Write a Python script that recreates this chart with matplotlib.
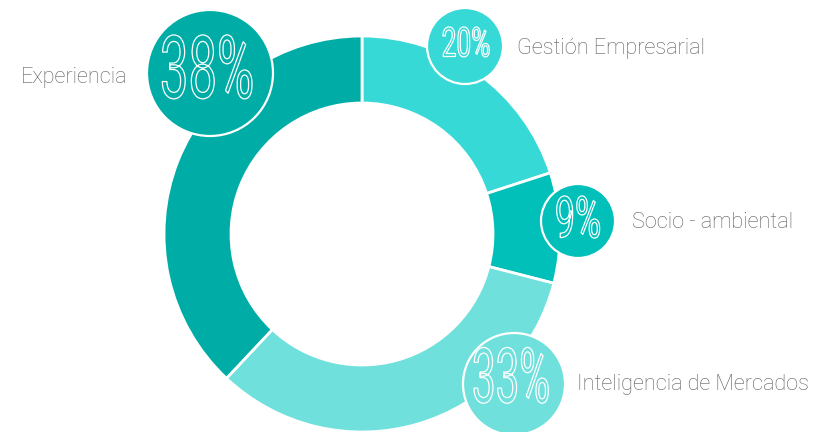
import matplotlib
matplotlib.use("Agg")
import matplotlib.pyplot as plt
from matplotlib.patches import Circle
from matplotlib.patheffects import AbstractPathEffect
from matplotlib.transforms import Affine2D

# ---- data ----
categories = ["Gestión Empresarial", "Socio - ambiental", "Inteligencia de Mercados", "Experiencia"]
values = [20, 9, 33, 38]
pct_labels = ["20%", "9%", "33%", "38%"]
colors = ["#36d9d5", "#00c0b9", "#6fe0dc", "#00ada6"]

# ---- layout (pixels from top-left) ----
W, H = 814, 432
center = (362, 234)
R_out, R_in = 198, 131
badge_xy = [(465, 46), (578, 221), (514, 384), (210, 73)]
badge_r = [38, 37, 51, 63]
num_xy = [(466, 45), (578, 222), (511, 382), (207, 74)]
num_size = [29.5, 41.5, 55, 63]
num_sx = [0.64, 0.62, 0.55, 0.58]
lab_xy = [(517, 54), (632, 228), (577, 390), (127, 83)]
lab_ha = ["left", "left", "left", "right"]


class CondensedOutline(AbstractPathEffect):
    def __init__(self, sx=0.6, lw=1.0, ec="white"):
        super().__init__()
        self.sx, self.lw, self.ec = sx, lw, ec

    def draw_path(self, renderer, gc, tpath, affine, rgbFace=None):
        ext = tpath.get_extents()
        cx = (ext.x0 + ext.x1) / 2
        t = Affine2D().translate(-cx, 0).scale(self.sx, 1).translate(cx, 0) + affine
        gc0 = renderer.new_gc()
        gc0.copy_properties(gc)
        gc0.set_linewidth(self.lw)
        gc0.set_foreground(self.ec)
        renderer.draw_path(gc0, tpath, t, rgbFace)
        gc0.restore()


def Y(y):
    return H - y


fig = plt.figure(figsize=(W / 100, H / 100), dpi=100)
ax = fig.add_axes([0, 0, 1, 1])
ax.pie(values, colors=colors, startangle=90, counterclock=False,
       radius=R_out, center=(center[0], Y(center[1])),
       wedgeprops=dict(width=R_out - R_in, edgecolor="white", linewidth=2))
ax.set_xlim(0, W)
ax.set_ylim(0, H)
ax.set_aspect("equal")
ax.axis("off")

for i in range(len(values)):
    bx, by = badge_xy[i]
    ax.add_patch(Circle((bx, Y(by)), badge_r[i], facecolor=colors[i],
                        edgecolor="white", linewidth=1.6, zorder=5))
    nx, ny = num_xy[i]
    ax.text(nx, Y(ny), pct_labels[i], ha="center", va="center",
            fontsize=num_size[i], family="Roboto", fontweight="normal",
            color=colors[i], zorder=6,
            path_effects=[CondensedOutline(sx=num_sx[i], lw=0.9)])
    lx, ly = lab_xy[i]
    ax.text(lx, Y(ly), categories[i], ha=lab_ha[i], va="baseline",
            fontsize=15.6, family="Roboto", fontweight="light",
            color="#5e5e5e", zorder=6)

fig.savefig("out.png", dpi=100)
